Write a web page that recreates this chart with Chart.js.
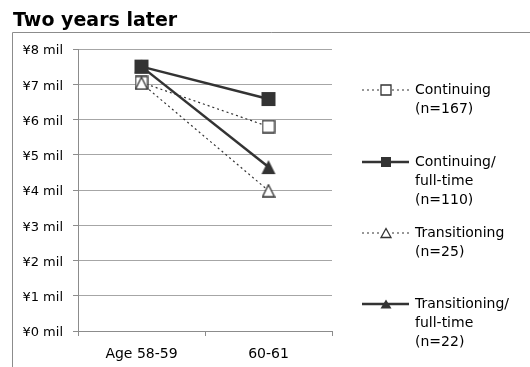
<!DOCTYPE html>
<html>
<head>
<meta charset="utf-8">
<script src="https://cdn.jsdelivr.net/npm/chart.js@4/dist/chart.umd.min.js"></script>
<style>
  html, body { margin: 0; padding: 0; background: #fff; }
  canvas { display: block; }
</style>
</head>
<body>
<canvas id="chart" width="530" height="367"></canvas>
<script>
// ---- data ----
const titleText = 'Two years later';
const categories = ['Age 58-59', '60-61'];
const yTickLabels = ['¥0 mil', '¥1 mil', '¥2 mil', '¥3 mil', '¥4 mil', '¥5 mil', '¥6 mil', '¥7 mil', '¥8 mil'];

const continuing = [7.05, 5.80];
const continuingFullTime = [7.50, 6.58];
const transitioning = [7.03, 3.98];
const transitioningFullTime = [7.50, 4.65];

const continuingLabel = ['Continuing', '(n=167)'];
const continuingFullTimeLabel = ['Continuing/', 'full-time', '(n=110)'];
const transitioningLabel = ['Transitioning', '(n=25)'];
const transitioningFullTimeLabel = ['Transitioning/', 'full-time', '(n=22)'];

// ---- styling ----
const INK = '#333333';
const FONT = '"DejaVu Sans", "Liberation Sans", sans-serif';

function traceShape(ctx, kind, cx, cy, w, h) {
  ctx.beginPath();
  if (kind === 'square') {
    ctx.rect(cx - w / 2, cy - h / 2, w, h);
  } else {
    ctx.moveTo(cx, cy - h / 2);
    ctx.lineTo(cx + w / 2, cy + h / 2);
    ctx.lineTo(cx - w / 2, cy + h / 2);
    ctx.closePath();
  }
}

function paintMarker(ctx, kind, filled, cx, cy, w, h) {
  traceShape(ctx, kind, cx, cy, w, h);
  if (filled) {
    ctx.fillStyle = INK;
    ctx.fill();
  } else {
    ctx.fillStyle = '#ffffff';
    ctx.fill();
    ctx.lineWidth = 1.3;
    ctx.strokeStyle = INK;
    ctx.stroke();
  }
}

function markerImage(kind, filled, w, h) {
  const c = document.createElement('canvas');
  c.width = w + 2;
  c.height = h + 2;
  paintMarker(c.getContext('2d'), kind, filled, c.width / 2, c.height / 2, w, h);
  return c;
}

const seriesStyles = [
  { kind: 'square',   filled: false, dashed: true,  size: [12, 12], legendSize: [10, 10] },
  { kind: 'square',   filled: true,  dashed: false, size: [14, 14], legendSize: [10, 10] },
  { kind: 'triangle', filled: false, dashed: true,  size: [12, 12], legendSize: [10, 9] },
  { kind: 'triangle', filled: true,  dashed: false, size: [14, 14], legendSize: [11, 9] }
];

function makeDataset(label, data, style, order) {
  return {
    label: label.join(' '),
    data: data,
    borderColor: INK,
    borderWidth: style.dashed ? 1.2 : 2.5,
    borderDash: style.dashed ? [2, 3] : [],
    backgroundColor: INK,
    pointStyle: markerImage(style.kind, style.filled, style.size[0], style.size[1]),
    pointRadius: 6,
    pointHoverRadius: 6,
    tension: 0,
    fill: false,
    order: order
  };
}

const legendEntries = [
  { lines: continuingLabel, style: seriesStyles[0], y: 90 },
  { lines: continuingFullTimeLabel, style: seriesStyles[1], y: 162 },
  { lines: transitioningLabel, style: seriesStyles[2], y: 233 },
  { lines: transitioningFullTimeLabel, style: seriesStyles[3], y: 304 }
];

// frame, title and the multi-line legend at the right
const decorations = {
  id: 'decorations',
  afterDraw(chart) {
    const ctx = chart.ctx;
    ctx.save();
    // outer frame (top and left edges)
    ctx.strokeStyle = '#8c8c8c';
    ctx.lineWidth = 1;
    ctx.setLineDash([]);
    ctx.beginPath();
    ctx.moveTo(12.5, chart.height);
    ctx.lineTo(12.5, 32.5);
    ctx.lineTo(chart.width, 32.5);
    ctx.stroke();

    // title
    ctx.fillStyle = '#000';
    ctx.font = 'bold 19px ' + FONT;
    ctx.textBaseline = 'alphabetic';
    ctx.textAlign = 'left';
    ctx.fillText(titleText, 13, 26);

    // legend
    const x0 = 362, x1 = 409, xm = 386, tx = 415, lh = 19.3;
    legendEntries.forEach(e => {
      const s = e.style;
      ctx.strokeStyle = INK;
      ctx.lineWidth = s.dashed ? 1.2 : 2.5;
      ctx.setLineDash(s.dashed ? [2, 3] : []);
      ctx.beginPath();
      if (s.dashed) {
        ctx.moveTo(x0, e.y); ctx.lineTo(xm - 6, e.y);
        ctx.moveTo(xm + 6, e.y); ctx.lineTo(x1, e.y);
      } else {
        ctx.moveTo(x0, e.y); ctx.lineTo(x1, e.y);
      }
      ctx.stroke();
      ctx.setLineDash([]);
      paintMarker(ctx, s.kind, s.filled, xm, e.y, s.legendSize[0], s.legendSize[1]);

      ctx.fillStyle = '#000';
      ctx.font = '14px ' + FONT;
      ctx.textBaseline = 'middle';
      e.lines.forEach((t, i) => ctx.fillText(t, tx, e.y + i * lh));
    });
    ctx.restore();
  }
};

new Chart(document.getElementById('chart'), {
  type: 'line',
  data: {
    labels: categories,
    datasets: [
      makeDataset(continuingLabel, continuing, seriesStyles[0], 3),
      makeDataset(continuingFullTimeLabel, continuingFullTime, seriesStyles[1], 0),
      makeDataset(transitioningLabel, transitioning, seriesStyles[2], 1),
      makeDataset(transitioningFullTimeLabel, transitioningFullTime, seriesStyles[3], 2)
    ]
  },
  options: {
    responsive: false,
    devicePixelRatio: 1,
    animation: false,
    layout: { padding: { top: 49, left: 0, right: 198, bottom: 0 } },
    plugins: {
      legend: { display: false },
      title: { display: false },
      tooltip: { enabled: false }
    },
    scales: {
      x: {
        type: 'category',
        offset: true,
        afterFit(scale) { scale.height = 36; },
        grid: {
          display: true,
          drawOnChartArea: false,
          drawTicks: true,
          tickLength: 5,
          offset: true,
          color: '#8c8c8c'
        },
        border: { display: true, color: '#8c8c8c', width: 1 },
        ticks: {
          color: '#000',
          padding: 10,
          font: { family: FONT, size: 14 },
          maxRotation: 0
        }
      },
      y: {
        min: 0,
        max: 8,
        afterFit(scale) { scale.width = 78; },
        grid: {
          color: '#a6a6a6',
          lineWidth: 1,
          drawTicks: true,
          tickLength: 5,
          tickColor: '#8c8c8c'
        },
        border: { display: true, color: '#8c8c8c', width: 1 },
        ticks: {
          stepSize: 1,
          color: '#000',
          padding: 10,
          labelOffset: 2,
          font: { family: FONT, size: 13 },
          callback: (value, index) => yTickLabels[index]
        }
      }
    }
  },
  plugins: [decorations]
});
</script>
</body>
</html>
